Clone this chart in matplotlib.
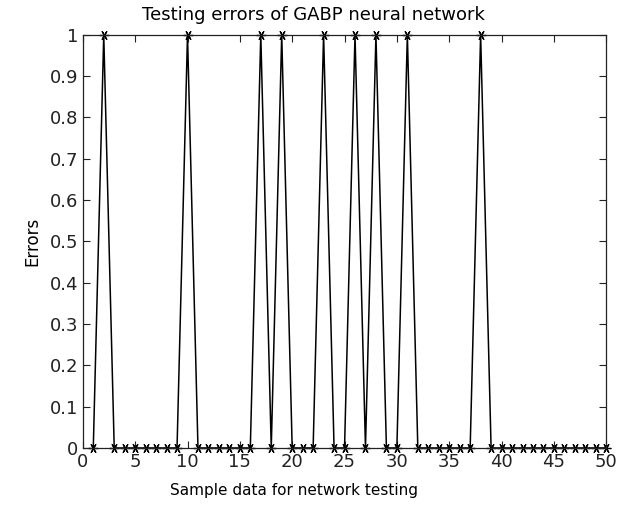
import numpy as np
import matplotlib
matplotlib.use("Agg")
import matplotlib.pyplot as plt

# test samples 1..50, error is 1 where the network misclassified
samples = list(range(1, 51))
wrong_samples = [2, 10, 17, 19, 23, 26, 28, 31, 38]
errors = [1 if s in wrong_samples else 0 for s in samples]

plt.rcParams["font.family"] = ["DejaVu Sans"]

fig = plt.figure(figsize=(6.18, 5.12), dpi=100)
ax = fig.add_axes([0.134, 0.125, 0.847, 0.807])
# asterisk marker like matlab '*'
ax.plot(samples, errors, color="black", linewidth=1.1, marker=(6, 2, 90), markersize=7,
        markeredgewidth=0.9, clip_on=False)
ax.set_xlim(0, 50)
ax.set_ylim(0, 1)
ax.set_xticks(np.arange(0, 51, 5))
ax.set_yticks(np.round(np.arange(0, 1.01, 0.1), 1))
ax.set_yticklabels(["0", "0.1", "0.2", "0.3", "0.4", "0.5", "0.6", "0.7", "0.8", "0.9", "1"])
ax.tick_params(direction="in", top=True, right=True, length=5, width=0.8, labelsize=13, colors="#222222")
for sp in ax.spines.values():
    sp.set_linewidth(0.9)
    sp.set_color("#222222")
ax.set_title("Testing errors of GABP neural network", fontsize=13, pad=11)
ax.title.set_x(0.44)
ax.set_xlabel("Sample data for network testing", fontsize=11, labelpad=9)
ax.xaxis.set_label_coords(0.403, -0.085)
ax.set_ylabel("Errors", fontsize=12, labelpad=6)
fig.savefig("out.png", dpi=100)
